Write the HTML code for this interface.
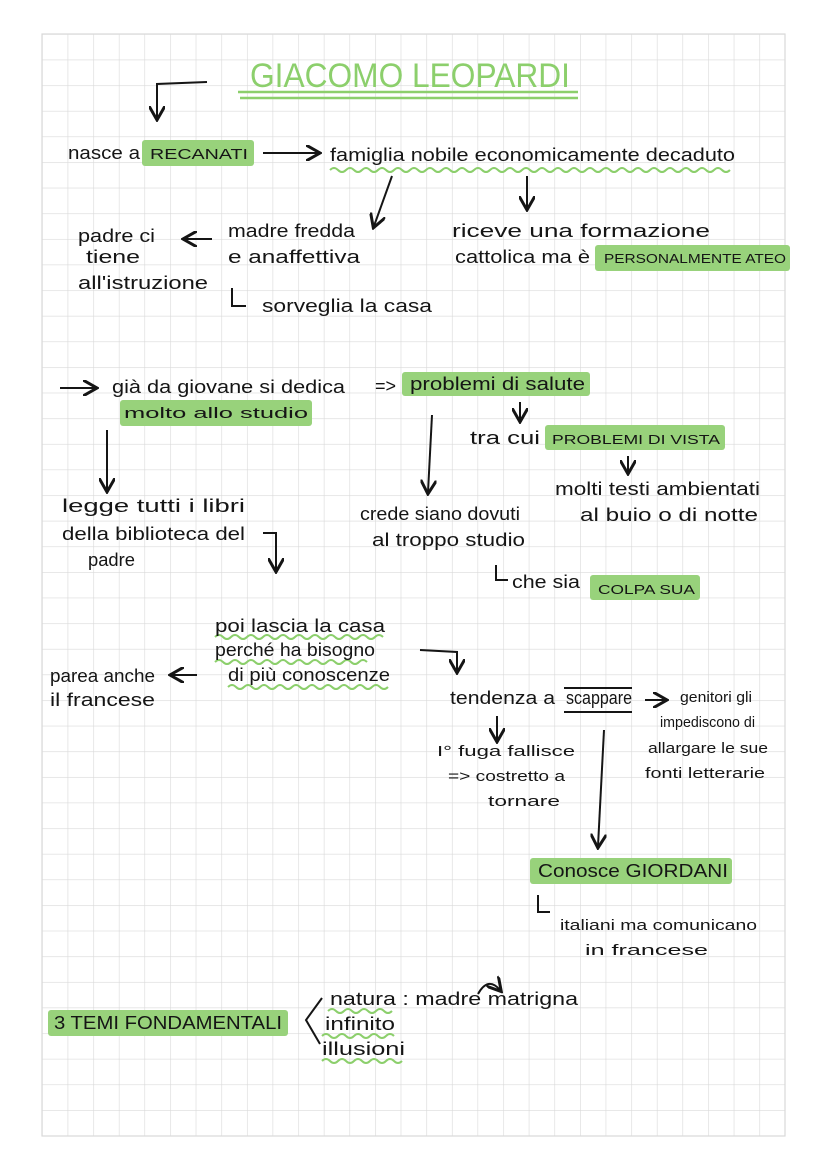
<!DOCTYPE html>
<html><head><meta charset="utf-8"><style>
html,body{margin:0;padding:0;background:#fff}
svg text{font-family:"Liberation Sans",sans-serif;font-size:18px;fill:#151515}
</style></head><body>
<svg width="828" height="1171" viewBox="0 0 828 1171" xmlns="http://www.w3.org/2000/svg">
<defs>
<pattern id="g" x="42" y="34" width="25.62" height="25.62" patternUnits="userSpaceOnUse">
<path d="M0 0H25.62M0 0V25.62" stroke="#d9d9d9" stroke-width="1.2" fill="none"/>
</pattern>
<marker id="a" markerWidth="8" markerHeight="8" refX="6" refY="4" orient="auto"><path d="M0 0L7 4L0 8" fill="none" stroke="#151515" stroke-width="1.5"/></marker>
</defs>
<rect x="42" y="34" width="743" height="1102" fill="url(#g)" stroke="#d9d9d9" stroke-width="1.2"/>
<g fill="#98d27b">
<rect x="142" y="140" width="112" height="26" rx="3"/>
<rect x="595" y="245" width="195" height="26" rx="3"/>
<rect x="120" y="400" width="192" height="26" rx="3"/>
<rect x="402" y="372" width="188" height="24" rx="3"/>
<rect x="545" y="425" width="180" height="25" rx="3"/>
<rect x="590" y="575" width="110" height="25" rx="3"/>
<rect x="530" y="858" width="202" height="26" rx="3"/>
<rect x="48" y="1010" width="240" height="26" rx="3"/>
</g>
<text x="250" y="87" textLength="320" lengthAdjust="spacingAndGlyphs" style="font-size:34px;fill:#8ccf6c">GIACOMO LEOPARDI</text>
<path d="M238 92H578M240 98H578" stroke="#8ccf6c" stroke-width="2.5"/>
<g stroke="#151515" stroke-width="2" fill="none">
<path d="M207 82L157 84V118" marker-end="url(#a)"/>
<path d="M263 153H318" marker-end="url(#a)"/>
<path d="M392 176L374 226" marker-end="url(#a)"/>
<path d="M527 176V208" marker-end="url(#a)"/>
<path d="M212 239H185" marker-end="url(#a)"/>
<path d="M232 288V306H246"/>
<path d="M60 388H95" marker-end="url(#a)"/>
<path d="M107 430V490" marker-end="url(#a)"/>
<path d="M263 533H276V570" marker-end="url(#a)"/>
<path d="M520 402V420" marker-end="url(#a)"/>
<path d="M432 415L428 492" marker-end="url(#a)"/>
<path d="M628 456V472" marker-end="url(#a)"/>
<path d="M496 565V580H508"/>
<path d="M197 675H172" marker-end="url(#a)"/>
<path d="M420 650L457 652V671" marker-end="url(#a)"/>
<path d="M497 716V740" marker-end="url(#a)"/>
<path d="M604 730L598 846" marker-end="url(#a)"/>
<path d="M645 700H665" marker-end="url(#a)"/>
<path d="M564 688H632M564 712H632"/>
<path d="M538 895V912H550"/>
<path d="M322 998L306 1020L320 1044"/>
<path d="M478 994Q488 976 500 990" marker-end="url(#a)"/>
</g>
<g stroke="#8ccf6c" stroke-width="2" fill="none">
<path d="M330 170q4 -4 8 0t8 0t8 0t8 0t8 0t8 0t8 0t8 0t8 0t8 0t8 0t8 0t8 0t8 0t8 0t8 0t8 0t8 0t8 0t8 0t8 0t8 0t8 0t8 0t8 0t8 0t8 0t8 0t8 0t8 0t8 0t8 0t8 0t8 0t8 0t8 0t8 0t8 0t8 0t8 0t8 0t8 0t8 0t8 0t8 0t8 0t8 0t8 0t8 0t8 0"/>
<path d="M215 637q4 -4 8 0t8 0t8 0t8 0t8 0t8 0t8 0t8 0t8 0t8 0t8 0t8 0t8 0t8 0t8 0t8 0t8 0t8 0t8 0t8 0t8 0"/>
<path d="M215 662q4 -4 8 0t8 0t8 0t8 0t8 0t8 0t8 0t8 0t8 0t8 0t8 0t8 0t8 0t8 0t8 0t8 0t8 0t8 0t8 0"/>
<path d="M228 687q4 -4 8 0t8 0t8 0t8 0t8 0t8 0t8 0t8 0t8 0t8 0t8 0t8 0t8 0t8 0t8 0t8 0t8 0t8 0t8 0t8 0"/>
<path d="M328 1011q4 -4 8 0t8 0t8 0t8 0t8 0t8 0t8 0t8 0"/>
<path d="M322 1036q4 -4 8 0t8 0t8 0t8 0t8 0t8 0t8 0t8 0t8 0"/>
<path d="M322 1061q4 -4 8 0t8 0t8 0t8 0t8 0t8 0t8 0t8 0t8 0t8 0"/>
</g>
<g lengthAdjust="spacingAndGlyphs">
<text x="68" y="159" textLength="72" lengthAdjust="spacingAndGlyphs">nasce a</text>
<text x="150" y="159" textLength="98" lengthAdjust="spacingAndGlyphs" style="font-size:15px">RECANATI</text>
<text x="330" y="161" textLength="405" lengthAdjust="spacingAndGlyphs">famiglia nobile economicamente decaduto</text>
<text x="78" y="242" textLength="77" lengthAdjust="spacingAndGlyphs">padre ci</text>
<text x="86" y="263" textLength="54" lengthAdjust="spacingAndGlyphs">tiene</text>
<text x="78" y="289" textLength="130" lengthAdjust="spacingAndGlyphs">all'istruzione</text>
<text x="228" y="237" textLength="127" lengthAdjust="spacingAndGlyphs">madre fredda</text>
<text x="228" y="263" textLength="132" lengthAdjust="spacingAndGlyphs">e anaffettiva</text>
<text x="262" y="312" textLength="170" lengthAdjust="spacingAndGlyphs">sorveglia la casa</text>
<text x="452" y="237" textLength="258" lengthAdjust="spacingAndGlyphs">riceve una formazione</text>
<text x="455" y="263" textLength="135" lengthAdjust="spacingAndGlyphs">cattolica ma è</text>
<text x="604" y="263" textLength="182" lengthAdjust="spacingAndGlyphs" style="font-size:13px">PERSONALMENTE ATEO</text>
<text x="112" y="393" textLength="233" lengthAdjust="spacingAndGlyphs">già da giovane si dedica</text>
<text x="124" y="418" textLength="184" lengthAdjust="spacingAndGlyphs" style="font-size:15px">molto allo studio</text>
<text x="375" y="392">=&gt;</text>
<text x="410" y="390" textLength="175" lengthAdjust="spacingAndGlyphs">problemi di salute</text>
<text x="470" y="444" textLength="70" lengthAdjust="spacingAndGlyphs">tra cui</text>
<text x="552" y="444" textLength="168" lengthAdjust="spacingAndGlyphs" style="font-size:13px">PROBLEMI DI VISTA</text>
<text x="555" y="495" textLength="205" lengthAdjust="spacingAndGlyphs">molti testi ambientati</text>
<text x="580" y="521" textLength="178" lengthAdjust="spacingAndGlyphs">al buio o di notte</text>
<text x="62" y="512" textLength="183" lengthAdjust="spacingAndGlyphs">legge tutti i libri</text>
<text x="62" y="540" textLength="183" lengthAdjust="spacingAndGlyphs">della biblioteca del</text>
<text x="88" y="566" textLength="47" lengthAdjust="spacingAndGlyphs">padre</text>
<text x="360" y="520" textLength="160" lengthAdjust="spacingAndGlyphs">crede siano dovuti</text>
<text x="372" y="546" textLength="153" lengthAdjust="spacingAndGlyphs">al troppo studio</text>
<text x="512" y="588" textLength="68" lengthAdjust="spacingAndGlyphs">che sia</text>
<text x="598" y="594" textLength="97" lengthAdjust="spacingAndGlyphs" style="font-size:13px">COLPA SUA</text>
<text x="215" y="632" textLength="170" lengthAdjust="spacingAndGlyphs">poi lascia la casa</text>
<text x="215" y="656" textLength="160" lengthAdjust="spacingAndGlyphs">perché ha bisogno</text>
<text x="228" y="681" textLength="162" lengthAdjust="spacingAndGlyphs">di più conoscenze</text>
<text x="50" y="682" textLength="105" lengthAdjust="spacingAndGlyphs">parea anche</text>
<text x="50" y="706" textLength="105" lengthAdjust="spacingAndGlyphs">il francese</text>
<text x="450" y="704" textLength="105" lengthAdjust="spacingAndGlyphs">tendenza a</text>
<text x="566" y="704" textLength="66" lengthAdjust="spacingAndGlyphs">scappare</text>
<text x="680" y="702" textLength="72" lengthAdjust="spacingAndGlyphs" style="font-size:15px">genitori gli</text>
<text x="660" y="727" textLength="95" lengthAdjust="spacingAndGlyphs" style="font-size:15px">impediscono di</text>
<text x="648" y="753" textLength="120" lengthAdjust="spacingAndGlyphs" style="font-size:15px">allargare le sue</text>
<text x="645" y="778" textLength="120" lengthAdjust="spacingAndGlyphs" style="font-size:15px">fonti letterarie</text>
<text x="437" y="756" textLength="138" lengthAdjust="spacingAndGlyphs" style="font-size:15px">I° fuga fallisce</text>
<text x="448" y="781" textLength="117" lengthAdjust="spacingAndGlyphs" style="font-size:15px">=&gt; costretto a</text>
<text x="488" y="806" textLength="72" lengthAdjust="spacingAndGlyphs" style="font-size:15px">tornare</text>
<text x="538" y="877" textLength="190" lengthAdjust="spacingAndGlyphs">Conosce  GIORDANI</text>
<text x="560" y="930" textLength="197" lengthAdjust="spacingAndGlyphs" style="font-size:15px">italiani ma comunicano</text>
<text x="585" y="955" textLength="123" lengthAdjust="spacingAndGlyphs" style="font-size:15px">in  francese</text>
<text x="54" y="1029" textLength="228" lengthAdjust="spacingAndGlyphs">3 TEMI FONDAMENTALI</text>
<text x="330" y="1005" textLength="248" lengthAdjust="spacingAndGlyphs">natura : madre matrigna</text>
<text x="325" y="1030" textLength="70" lengthAdjust="spacingAndGlyphs">infinito</text>
<text x="322" y="1055" textLength="83" lengthAdjust="spacingAndGlyphs">illusioni</text>
</g>
</svg>
</body></html>
